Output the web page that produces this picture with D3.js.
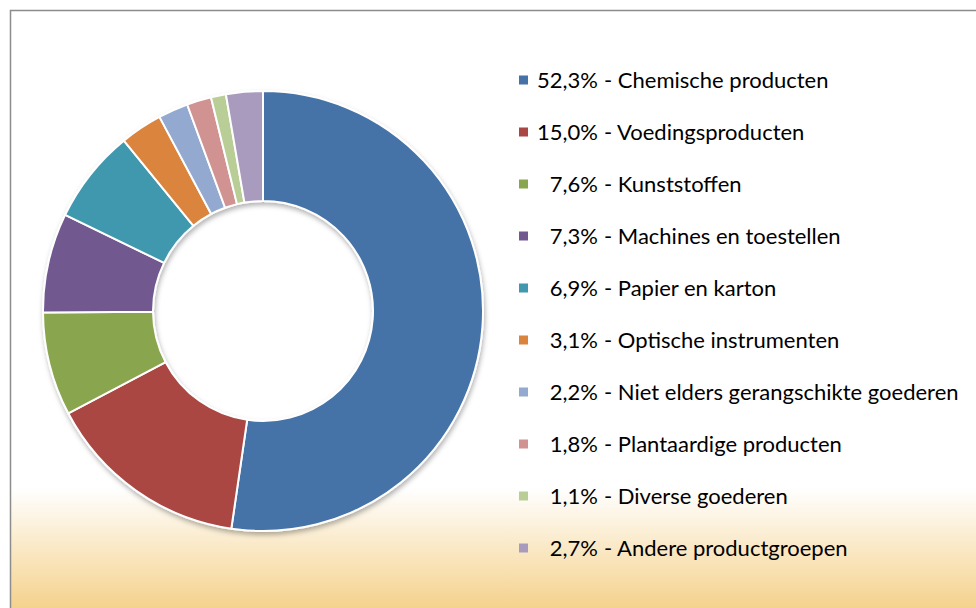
<!DOCTYPE html>
<html><head><meta charset="utf-8">
<script src="https://cdn.jsdelivr.net/npm/d3@7"></script>
<style>html,body{margin:0;padding:0;background:#fff;}svg{display:block;}</style>
</head><body>
<svg id="chart" width="976" height="608"></svg>
<script>
const categories = ["Chemische producten","Voedingsproducten","Kunststoffen","Machines en toestellen","Papier en karton","Optische instrumenten","Niet elders gerangschikte goederen","Plantaardige producten","Diverse goederen","Andere productgroepen"];
const values = [52.3,15.0,7.6,7.3,6.9,3.1,2.2,1.8,1.1,2.7];
const pctLabels = ["52,3%","15,0%","7,6%","7,3%","6,9%","3,1%","2,2%","1,8%","1,1%","2,7%"];
const colors = ["#4572a7","#aa4643","#89a54e","#71588f","#4198af","#db843d","#93a9cf","#d19392","#b9cd96","#a99bbd"];

const svg = d3.select("#chart");
const defs = svg.append("defs");
const grad = defs.append("linearGradient").attr("id","bg").attr("x1",0).attr("y1",0).attr("x2",0).attr("y2",1);
grad.append("stop").attr("offset","0%").attr("stop-color","#ffffff");
grad.append("stop").attr("offset","100%").attr("stop-color","#f5d28d");
const f = defs.append("filter").attr("id","sh").attr("x","-10%").attr("y","-10%").attr("width","130%").attr("height","130%");
f.append("feDropShadow").attr("dx",1).attr("dy",3).attr("stdDeviation",2.5).attr("flood-color","#000").attr("flood-opacity",0.3);

svg.append("rect").attr("x",10).attr("y",488).attr("width",966).attr("height",120).attr("fill","url(#bg)");
svg.append("path").attr("d","M10.5,608 V10.5 H976").attr("fill","none").attr("stroke","#8c8c8c").attr("stroke-width",1.5);

const cx = 263, cy = 311, R = 220, r = 110;
const pie = d3.pie().sort(null).value(d=>d)(values);
const arc = d3.arc().innerRadius(r).outerRadius(R);
const g = svg.append("g").attr("transform",`translate(${cx},${cy})`).attr("filter","url(#sh)");
g.selectAll("path").data(pie).join("path")
  .attr("d",arc).attr("fill",(d,i)=>colors[i]).attr("stroke","#fff").attr("stroke-width",2).attr("stroke-linejoin","round");

const font = "Lato, 'Open Sans', sans-serif";
const y = d3.scalePoint().domain(categories).range([80,548]);
const lg = svg.append("g");
const rows = lg.selectAll("g").data(categories).join("g").attr("transform",d=>`translate(0,${y(d)})`);
rows.append("rect").attr("x",519).attr("y",-4.5).attr("width",9).attr("height",9).attr("fill",(d,i)=>colors[i]);
rows.append("text").attr("x",598).attr("y",0).attr("dy","0.35em").attr("text-anchor","end")
  .attr("font-family",font).attr("font-size",22).attr("fill","#000").text((d,i)=>pctLabels[i]);
rows.append("text").attr("x",604).attr("y",0).attr("dy","0.35em")
  .attr("font-family",font).attr("font-size",22).attr("fill","#000").text(d=>"- "+d);
</script>
</body></html>
